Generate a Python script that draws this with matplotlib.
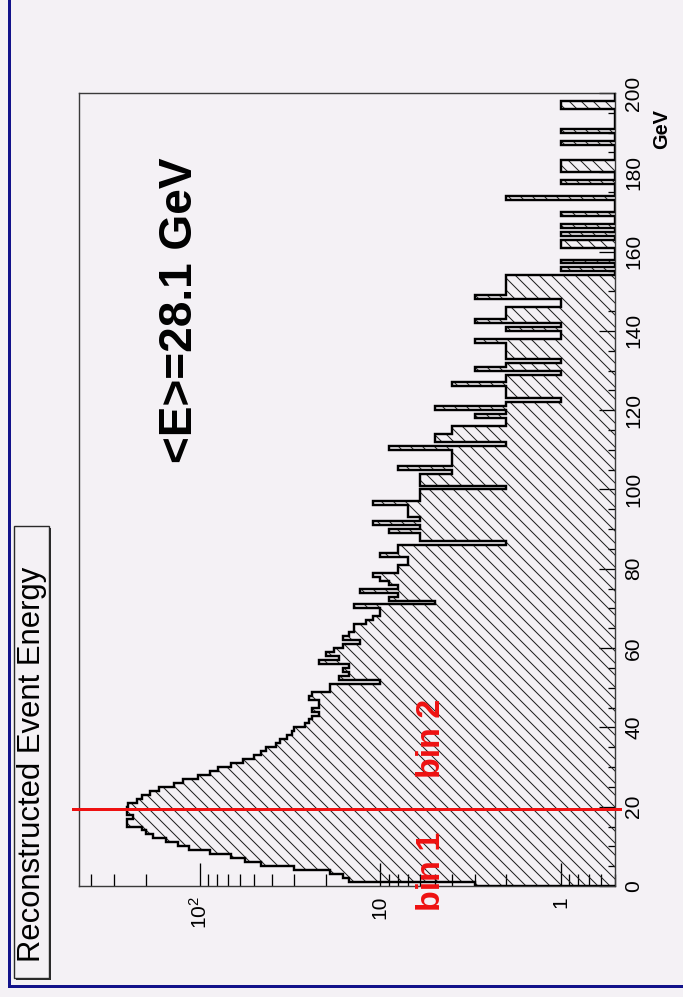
import numpy as np
import matplotlib
matplotlib.use("Agg")
import matplotlib.pyplot as plt
from matplotlib.ticker import FixedLocator, FixedFormatter, NullFormatter
from matplotlib.patches import Rectangle
from matplotlib.lines import Line2D

# ---------------------------------------------------------------- data
energy_edges = np.arange(0, 201, 1)          # GeV, 1 GeV bins

counts = np.array([
    3, 15, 16, 19, 30, 46, 56, 67, 88, 115,          # 0-9
    133, 155, 183, 200, 210, 253, 253, 235, 253, 253,  # 10-19
    250, 222, 210, 190, 169, 140, 124, 102, 88, 79,    # 20-29
    67, 58, 50, 46, 43, 38, 36, 33, 31, 30,            # 30-39
    26, 25, 24, 22, 24, 22, 22, 25, 24, 19,            # 40-49
    19, 10, 17, 15, 16, 15, 22, 17, 20, 18,            # 50-59
    16, 13, 16, 15, 14, 14, 12, 11, 10, 10,            # 60-69
    14, 5, 9, 8, 13, 8, 9, 10, 11, 8,                  # 70-79
    8, 7, 7, 10, 8, 8, 2, 6, 6, 9,                     # 80-89
    6, 11, 6, 7, 7, 7, 11, 6, 6, 6,                    # 90-99
    2, 6, 6, 6, 4, 8, 4, 4, 4, 4,                      # 100-109
    9, 2, 5, 5, 4, 4, 2, 2, 3, 2,                      # 110-119
    5, 2, 1, 2, 2, 2, 4, 2, 2, 1,                      # 120-129
    3, 2, 1, 2, 2, 2, 2, 3, 1, 1,                      # 130-139
    2, 1, 3, 2, 2, 2, 1, 1, 3, 2,                      # 140-149
    2, 2, 2, 2, 0, 1, 0, 1, 0, 0,                      # 150-159
    0, 1, 1, 0, 1, 0, 1, 0, 0, 1,                      # 160-169
    0, 0, 0, 2, 0, 0, 0, 1, 0, 0,                      # 170-179
    1, 1, 1, 0, 0, 0, 0, 1, 0, 0,                      # 180-189
    1, 0, 0, 0, 0, 0, 1, 1, 0, 0,                      # 190-199
], dtype=float)

energy_ticks = [0, 20, 40, 60, 80, 100, 120, 140, 160, 180, 200]
energy_minor = [e for e in range(5, 200, 5) if e % 20 != 0]
count_ticks = [1, 10, 100]
count_tick_labels = ["1", "10", "10$^{2}$"]
count_minor = [0.5, 0.6, 0.7, 0.8, 0.9, 2, 3, 4, 5, 6, 7, 8, 9,
               20, 30, 40, 50, 60, 70, 80, 90, 200, 300, 400]
count_range = (0.5, 468)

title_text = "Reconstructed Event Energy"
mean_text = "<E>=28.1 GeV"
split_energy = 19.3
bin_labels = ["bin 1", "bin 2"]

# ---------------------------------------------------------------- style
DPI = 72
W, H = 683, 997
BG = "#f4f1f5"

plt.rcParams["font.family"] = ["Liberation Sans", "DejaVu Sans"]
plt.rcParams["mathtext.default"] = "regular"
plt.rcParams["hatch.linewidth"] = 1.0
plt.rcParams["hatch.color"] = "#1e1e1e"

fig = plt.figure(figsize=(W / DPI, H / DPI), dpi=DPI, facecolor=BG)


def fx(px):
    return px / W


def fy(py):
    return 1 - py / H


# the histogram frame is turned on its side: energy runs upward,
# the (log) counts grow towards the left
ax = fig.add_axes([fx(79), fy(886), (615 - 79) / W, (886 - 93) / H])
ax.set_facecolor(BG)
ax.set_xscale("log")
ax.set_xlim(count_range[1], count_range[0])
ax.set_ylim(energy_edges[0], energy_edges[-1])

shown = np.clip(counts, count_range[0], None)   # empty bins rest on the floor
ax.stairs(shown, energy_edges, orientation="horizontal", baseline=count_range[0],
          fill=True, facecolor="none", edgecolor="#1e1e1e", hatch="\\\\",
          linewidth=0, zorder=2)
ax.stairs(shown, energy_edges, orientation="horizontal", baseline=count_range[0],
          fill=False, edgecolor="black", linewidth=2.4, zorder=3)

for s in ax.spines.values():
    s.set_linewidth(1.4)
    s.set_color("#3a3a3a")

# count axis (bottom)
ax.xaxis.set_major_locator(FixedLocator(count_ticks))
ax.xaxis.set_major_formatter(FixedFormatter(count_tick_labels))
ax.xaxis.set_minor_locator(FixedLocator(count_minor))
ax.xaxis.set_minor_formatter(NullFormatter())
ax.tick_params(axis="x", which="major", direction="in", length=23, width=1.3,
               labelsize=21, pad=10, labelrotation=90, top=False, bottom=True)
ax.tick_params(axis="x", which="minor", direction="in", length=12, width=1.3,
               top=False, bottom=True)

# energy axis (right)
ax.yaxis.tick_right()
ax.yaxis.set_major_locator(FixedLocator(energy_ticks))
ax.yaxis.set_minor_locator(FixedLocator(energy_minor))
ax.tick_params(axis="y", which="major", direction="in", length=16, width=1.3,
               labelsize=21, pad=9, labelrotation=90, left=False, right=True)
ax.tick_params(axis="y", which="minor", direction="in", length=7, width=1.3,
               left=False, right=True)
for lab in ax.get_yticklabels():
    lab.set_verticalalignment("center")

fig.text(fx(662), fy(129), "GeV", rotation=90, ha="center", va="center",
         fontsize=20, fontweight="bold")

# split between the two energy bins
ax.plot([-0.011, 1.009], [split_energy, split_energy], color="#ee1111", lw=3,
        transform=ax.get_yaxis_transform(), clip_on=False, zorder=5)
fig.text(fx(431), fy(871), bin_labels[0], rotation=90, ha="center", va="center",
         fontsize=34, fontweight="bold", color="#ee1111", zorder=6)
fig.text(fx(431), fy(738), bin_labels[1], rotation=90, ha="center", va="center",
         fontsize=34, fontweight="bold", color="#ee1111", zorder=6)

# mean energy
fig.text(fx(180), fy(310), mean_text, rotation=90, ha="center", va="center",
         fontsize=46, fontweight="bold")

# title box with shadow
fig.patches.append(Rectangle((fx(16), fy(980)), (49 - 14) / W, (978 - 526) / H,
                             transform=fig.transFigure, facecolor="#2a2a2a",
                             edgecolor="none", zorder=1))
fig.patches.append(Rectangle((fx(14), fy(978)), (49 - 14) / W, (978 - 526) / H,
                             transform=fig.transFigure, facecolor=BG,
                             edgecolor="#2a2a2a", linewidth=1.4, zorder=2))
fig.text(fx(32), fy(764), title_text, rotation=90, ha="center", va="center",
         fontsize=31, zorder=3)

# canvas border (left and bottom)
fig.lines.append(Line2D([fx(8.7), fx(8.7)], [fy(0), fy(986)], transform=fig.transFigure,
                        color="#12128a", lw=3))
fig.lines.append(Line2D([fx(8.7), fx(683)], [fy(986), fy(986)], transform=fig.transFigure,
                        color="#12128a", lw=3))

fig.savefig("out.png", dpi=DPI, facecolor=BG)
